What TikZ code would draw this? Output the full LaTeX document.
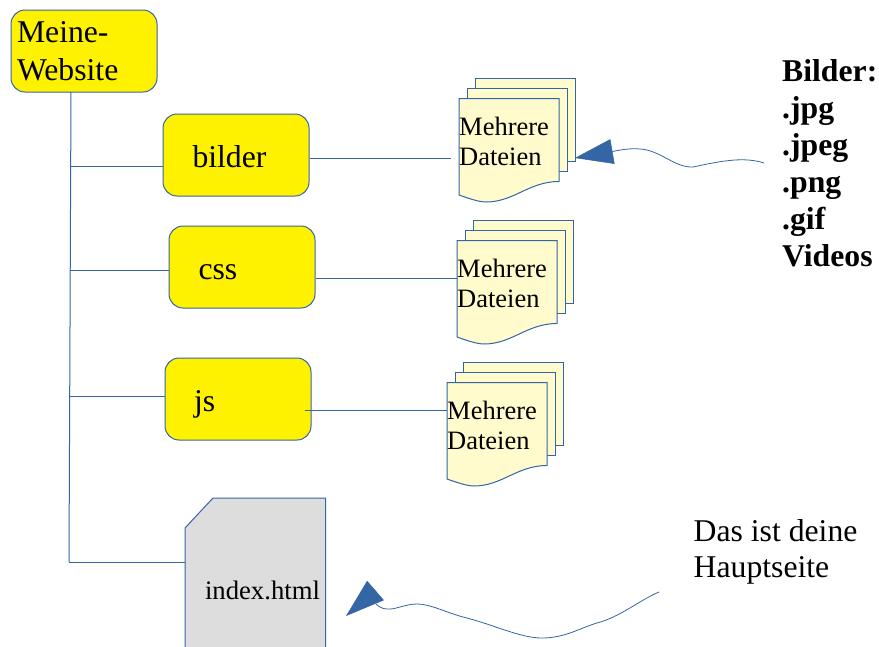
\documentclass[tikz,border=0pt]{standalone}
\usepackage{fontspec}
\setmainfont{Liberation Serif}
\usetikzlibrary{arrows.meta}
\definecolor{linie}{HTML}{3465A4}
\definecolor{gelb}{HTML}{FFF200}
\definecolor{blatt}{HTML}{FFFBCC}
\definecolor{grau}{HTML}{DDDDDD}
\tikzstyle{folder} = [draw=linie, fill=gelb, line width=1pt, rounded corners=14pt, inner sep=0pt,
   minimum width=146pt, minimum height=82pt, text width=146pt, align=left,
   font=\fontsize{31.7}{37.5}\selectfont]
\tikzstyle{conn} = [draw=linie, line width=1pt]
\tikzstyle{wavy} = [draw=linie, line width=0.8pt]
\tikzstyle{head} = [draw=linie, fill=linie, line width=0.5pt]
\tikzstyle{note} = [inner sep=0pt, anchor=north west, align=left]
\tikzstyle{sheet} = [draw=linie, fill=blatt, line width=1pt]
\tikzset{dateien/.pic={
    \path[sheet] (16,-20) rectangle (116,63);
    \path[sheet] (8,-10) rectangle (108,73);
    \path[sheet] (0,0) -- (100,0) -- (100,83)
       .. controls (70,83) and (55,103.5) .. (27,103.5)
       .. controls (20,103.5) and (10,100) .. (0,96.5) -- cycle;
    \node (-txt) [inner sep=0pt, anchor=north west, text width=100pt, align=left,
       font=\fontsize{26.5}{30.5}\selectfont] at (0,18) {Mehrere\\Dateien};
}}

\begin{document}
\begin{tikzpicture}[x=1pt,y=-1pt]
    \useasboundingbox (0,0) rectangle (879,646);
    \node (main) [folder] at (84,51) {\hspace*{6pt}Meine-\\\hspace*{6pt}Website};
    \node (bilder) [folder] at (236,155) {\hspace*{29.5pt}\raisebox{-12pt}[0pt][0pt]{bilder}};
    \node (css) [folder] at (242,267) {\hspace*{29.5pt}\raisebox{-12pt}[0pt][0pt]{css}};
    \node (js) [folder] at (238,399) {\hspace*{29pt}\raisebox{-12pt}[0pt][0pt]{js}};
    \path [draw=linie, fill=grau, line width=1pt] (185,528) -- (213,498) -- (325.5,498)
       -- (325.5,660) -- (185,660) -- cycle;
    \node (index) [inner sep=0pt, minimum width=140.5pt, minimum height=184pt,
       text width=140.5pt, align=left, font=\fontsize{26.7}{30}\selectfont]
       at (255.25,590) {\hspace*{20pt}index.html};
    \pic (docb) at (459,98.5) {dateien};
    \pic (docc) at (457,240.5) {dateien};
    \pic (docj) at (447,382.5) {dateien};
    \node (bildertypen) [note, font=\fontsize{31.7}{37}\selectfont\bfseries] at (782,59)
       {Bilder:\\.jpg\\.jpeg\\.png\\.gif\\Videos};
    \node (hauptseite) [note, font=\fontsize{31.7}{36.5}\selectfont] at (693.5,519)
       {Das ist deine\\Hauptseite};
    % stamm und aeste
    \coordinate (oben) at (71,92);
    \coordinate (unten) at (69,562);
    \coordinate (ast1) at (70,166);
    \coordinate (ast2) at (70,270);
    \coordinate (ast3) at (70,396);
    \coordinate (aus1) at (451,158);
    \coordinate (aus2) at (457,278);
    \coordinate (aus3) at (305,410);
    \draw [conn] (oben) -- (unten);
    \draw [conn] (ast1) -- (ast1 -| bilder.west);
    \draw [conn] (ast2) -- (ast2 -| css.west);
    \draw [conn] (ast3) -- (ast3 -| js.west);
    \draw [conn] (unten) -- (unten -| index.west);
    \draw [conn] (aus1 -| bilder.east) -- (aus1);
    \draw [conn] (aus2 -| css.east) -- (aus2);
    \draw [conn] (aus3) -- (aus3 -| docj-txt.west);
    % pfeile
    \coordinate (bstart) at (764,163);
    \coordinate (bbase) at (612.5,151.5);
    \coordinate (btip) at (575,158);
    \coordinate (hstart) at (659,592);
    \coordinate (hend) at (376,604);
    \coordinate (hbase) at (375.5,590.5);
    \coordinate (htip) at (346,616);
    \draw [wavy] (bstart) .. controls (745,157) and (725,160) .. (693,167)
       .. controls (675,168) and (660,150) .. (640,149)
       .. controls (630,148) and (620,150) .. (bbase);
    \draw [head, -{Triangle[length=38pt,width=25pt]}] (bbase) -- (btip);
    \draw [wavy] (hstart) .. controls (640,600) and (620,617) .. (597,623)
       .. controls (580,628) and (565,638) .. (542,638)
       .. controls (520,638) and (495,625) .. (463,617)
       .. controls (445,612) and (430,604) .. (417,604)
       .. controls (405,604) and (395,610) .. (387,609)
       .. controls (382,609) and (378,606) .. (hend);
    \draw [head, -{Triangle[length=39pt,width=25.5pt]}] (hbase) -- (htip);
\end{tikzpicture}
\end{document}
